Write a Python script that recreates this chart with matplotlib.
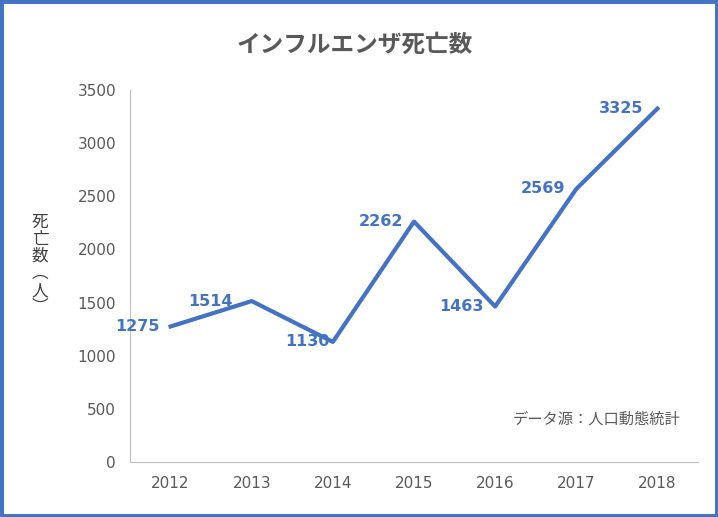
import matplotlib
matplotlib.use("Agg")
import matplotlib.pyplot as plt
from matplotlib.patches import Rectangle

plt.rcParams['font.family'] = ['Noto Sans CJK JP', 'DejaVu Sans']

years = ["2012", "2013", "2014", "2015", "2016", "2017", "2018"]
deaths = [1275, 1514, 1130, 2262, 1463, 2569, 3325]
yticks = [0, 500, 1000, 1500, 2000, 2500, 3000, 3500]

W, H = 718, 517
fig = plt.figure(figsize=(W/100, H/100), dpi=100)
fig.patches.append(Rectangle((0, 0), 1, 1, transform=fig.transFigure, fill=False,
                             edgecolor='#4472C4', linewidth=5))
ax = fig.add_axes([130/W, 1-462/H, 568/W, 372/H])
blue = '#4472C4'
x = list(range(len(years)))
ax.plot(x, deaths, color=blue, linewidth=3)
ax.set_xlim(-0.5, len(years)-0.5)
ax.set_ylim(0, 3500)
ax.set_yticks(yticks)
ax.set_xticks(x)
ax.set_xticklabels(years, family='DejaVu Sans')
ax.set_yticklabels([str(t) for t in yticks], family='DejaVu Sans')
ax.tick_params(length=0, labelsize=11, colors='#595959', pad=10)
for s in ['top', 'right']:
    ax.spines[s].set_visible(False)
for s in ['left', 'bottom']:
    ax.spines[s].set_color('#BFBFBF')

offsets = [(-8, 0), (-14, 0), (-2, 0), (-8, 0), (-8, 0), (-8, 0), (-10, 0)]
for xi, v, (dx, dy) in zip(x, deaths, offsets):
    ax.annotate(str(v), (xi, v), xytext=(dx, dy), textcoords='offset points',
                ha='right', va='center', color=blue, fontweight='bold', fontsize=11.5,
                family='DejaVu Sans')

fig.text(355/W, 1-45/H, 'インフルエンザ死亡数', ha='center', va='center',
         fontsize=17, fontweight='bold', color='#595959')
fig.text(40/W, 1-265/H, '死\n亡\n数\n︵\n人\n︶', ha='center', va='center',
         fontsize=12, color='#404040', linespacing=1.0)
ax.text(0.97, 0.115, 'データ源：人口動態統計', transform=ax.transAxes, ha='right',
        va='center', fontsize=11, color='#595959')
fig.savefig('out.png', dpi=100)
